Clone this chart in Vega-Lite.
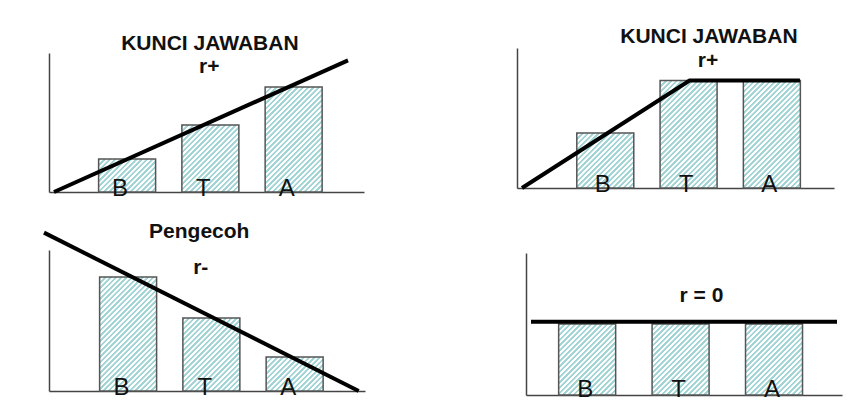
{
  "$schema": "https://vega.github.io/schema/vega-lite/v6.json",
  "background": "white",
  "padding": {"left": 36, "top": 25, "right": 0, "bottom": 0},
  "bounds": "flush",
  "columns": 2,
  "align": "none",
  "spacing": {"row": 58, "column": 152},
  "config": {
    "view": {"stroke": null},
    "font": "Liberation Sans",
    "axis": {"ticks": false, "labels": false, "grid": false, "domainColor": "#444", "domainWidth": 1.5}
  },
  "params": [
    {"name": "hatchStops", "value": [
      {"offset": 0, "color": "#a3d4d5"}, {"offset": 0.01, "color": "#a3d4d5"}, {"offset": 0.0125, "color": "#ffffff"}, {"offset": 0.0225, "color": "#ffffff"},
      {"offset": 0.025, "color": "#a3d4d5"}, {"offset": 0.035, "color": "#a3d4d5"}, {"offset": 0.0375, "color": "#ffffff"}, {"offset": 0.0475, "color": "#ffffff"},
      {"offset": 0.05, "color": "#a3d4d5"}, {"offset": 0.06, "color": "#a3d4d5"}, {"offset": 0.0625, "color": "#ffffff"}, {"offset": 0.0725, "color": "#ffffff"},
      {"offset": 0.075, "color": "#a3d4d5"}, {"offset": 0.085, "color": "#a3d4d5"}, {"offset": 0.0875, "color": "#ffffff"}, {"offset": 0.0975, "color": "#ffffff"},
      {"offset": 0.1, "color": "#a3d4d5"}, {"offset": 0.11, "color": "#a3d4d5"}, {"offset": 0.1125, "color": "#ffffff"}, {"offset": 0.1225, "color": "#ffffff"},
      {"offset": 0.125, "color": "#a3d4d5"}, {"offset": 0.135, "color": "#a3d4d5"}, {"offset": 0.1375, "color": "#ffffff"}, {"offset": 0.1475, "color": "#ffffff"},
      {"offset": 0.15, "color": "#a3d4d5"}, {"offset": 0.16, "color": "#a3d4d5"}, {"offset": 0.1625, "color": "#ffffff"}, {"offset": 0.1725, "color": "#ffffff"},
      {"offset": 0.175, "color": "#a3d4d5"}, {"offset": 0.185, "color": "#a3d4d5"}, {"offset": 0.1875, "color": "#ffffff"}, {"offset": 0.1975, "color": "#ffffff"},
      {"offset": 0.2, "color": "#a3d4d5"}, {"offset": 0.21, "color": "#a3d4d5"}, {"offset": 0.2125, "color": "#ffffff"}, {"offset": 0.2225, "color": "#ffffff"},
      {"offset": 0.225, "color": "#a3d4d5"}, {"offset": 0.235, "color": "#a3d4d5"}, {"offset": 0.2375, "color": "#ffffff"}, {"offset": 0.2475, "color": "#ffffff"},
      {"offset": 0.25, "color": "#a3d4d5"}, {"offset": 0.26, "color": "#a3d4d5"}, {"offset": 0.2625, "color": "#ffffff"}, {"offset": 0.2725, "color": "#ffffff"},
      {"offset": 0.275, "color": "#a3d4d5"}, {"offset": 0.285, "color": "#a3d4d5"}, {"offset": 0.2875, "color": "#ffffff"}, {"offset": 0.2975, "color": "#ffffff"},
      {"offset": 0.3, "color": "#a3d4d5"}, {"offset": 0.31, "color": "#a3d4d5"}, {"offset": 0.3125, "color": "#ffffff"}, {"offset": 0.3225, "color": "#ffffff"},
      {"offset": 0.325, "color": "#a3d4d5"}, {"offset": 0.335, "color": "#a3d4d5"}, {"offset": 0.3375, "color": "#ffffff"}, {"offset": 0.3475, "color": "#ffffff"},
      {"offset": 0.35, "color": "#a3d4d5"}, {"offset": 0.36, "color": "#a3d4d5"}, {"offset": 0.3625, "color": "#ffffff"}, {"offset": 0.3725, "color": "#ffffff"},
      {"offset": 0.375, "color": "#a3d4d5"}, {"offset": 0.385, "color": "#a3d4d5"}, {"offset": 0.3875, "color": "#ffffff"}, {"offset": 0.3975, "color": "#ffffff"},
      {"offset": 0.4, "color": "#a3d4d5"}, {"offset": 0.41, "color": "#a3d4d5"}, {"offset": 0.4125, "color": "#ffffff"}, {"offset": 0.4225, "color": "#ffffff"},
      {"offset": 0.425, "color": "#a3d4d5"}, {"offset": 0.435, "color": "#a3d4d5"}, {"offset": 0.4375, "color": "#ffffff"}, {"offset": 0.4475, "color": "#ffffff"},
      {"offset": 0.45, "color": "#a3d4d5"}, {"offset": 0.46, "color": "#a3d4d5"}, {"offset": 0.4625, "color": "#ffffff"}, {"offset": 0.4725, "color": "#ffffff"},
      {"offset": 0.475, "color": "#a3d4d5"}, {"offset": 0.485, "color": "#a3d4d5"}, {"offset": 0.4875, "color": "#ffffff"}, {"offset": 0.4975, "color": "#ffffff"},
      {"offset": 0.5, "color": "#a3d4d5"}, {"offset": 0.51, "color": "#a3d4d5"}, {"offset": 0.5125, "color": "#ffffff"}, {"offset": 0.5225, "color": "#ffffff"},
      {"offset": 0.525, "color": "#a3d4d5"}, {"offset": 0.535, "color": "#a3d4d5"}, {"offset": 0.5375, "color": "#ffffff"}, {"offset": 0.5475, "color": "#ffffff"},
      {"offset": 0.55, "color": "#a3d4d5"}, {"offset": 0.56, "color": "#a3d4d5"}, {"offset": 0.5625, "color": "#ffffff"}, {"offset": 0.5725, "color": "#ffffff"},
      {"offset": 0.575, "color": "#a3d4d5"}, {"offset": 0.585, "color": "#a3d4d5"}, {"offset": 0.5875, "color": "#ffffff"}, {"offset": 0.5975, "color": "#ffffff"},
      {"offset": 0.6, "color": "#a3d4d5"}, {"offset": 0.61, "color": "#a3d4d5"}, {"offset": 0.6125, "color": "#ffffff"}, {"offset": 0.6225, "color": "#ffffff"},
      {"offset": 0.625, "color": "#a3d4d5"}, {"offset": 0.635, "color": "#a3d4d5"}, {"offset": 0.6375, "color": "#ffffff"}, {"offset": 0.6475, "color": "#ffffff"},
      {"offset": 0.65, "color": "#a3d4d5"}, {"offset": 0.66, "color": "#a3d4d5"}, {"offset": 0.6625, "color": "#ffffff"}, {"offset": 0.6725, "color": "#ffffff"},
      {"offset": 0.675, "color": "#a3d4d5"}, {"offset": 0.685, "color": "#a3d4d5"}, {"offset": 0.6875, "color": "#ffffff"}, {"offset": 0.6975, "color": "#ffffff"},
      {"offset": 0.7, "color": "#a3d4d5"}, {"offset": 0.71, "color": "#a3d4d5"}, {"offset": 0.7125, "color": "#ffffff"}, {"offset": 0.7225, "color": "#ffffff"},
      {"offset": 0.725, "color": "#a3d4d5"}, {"offset": 0.735, "color": "#a3d4d5"}, {"offset": 0.7375, "color": "#ffffff"}, {"offset": 0.7475, "color": "#ffffff"},
      {"offset": 0.75, "color": "#a3d4d5"}, {"offset": 0.76, "color": "#a3d4d5"}, {"offset": 0.7625, "color": "#ffffff"}, {"offset": 0.7725, "color": "#ffffff"},
      {"offset": 0.775, "color": "#a3d4d5"}, {"offset": 0.785, "color": "#a3d4d5"}, {"offset": 0.7875, "color": "#ffffff"}, {"offset": 0.7975, "color": "#ffffff"},
      {"offset": 0.8, "color": "#a3d4d5"}, {"offset": 0.81, "color": "#a3d4d5"}, {"offset": 0.8125, "color": "#ffffff"}, {"offset": 0.8225, "color": "#ffffff"},
      {"offset": 0.825, "color": "#a3d4d5"}, {"offset": 0.835, "color": "#a3d4d5"}, {"offset": 0.8375, "color": "#ffffff"}, {"offset": 0.8475, "color": "#ffffff"}
    ]}
  ],
  "datasets": {
    "tlBars": [{"item": "B", "x": 1, "y": 2.37}, {"item": "T", "x": 2, "y": 4.82}, {"item": "A", "x": 3, "y": 7.55}],
    "tlLine": [{"x": 0.122, "y": 0}, {"x": 3.653, "y": 9.47}],
    "tlText": [{"t": "KUNCI JAWABAN", "x": 1.994, "y": 10.22}, {"t": "r+", "x": 1.986, "y": 8.56}],
    "trBars": [{"item": "B", "x": 1, "y": 3.93}, {"item": "T", "x": 2, "y": 7.68}, {"item": "A", "x": 3, "y": 7.68}],
    "trLine": [{"x": 0, "y": 0}, {"x": 2.012, "y": 7.68}, {"x": 3.337, "y": 7.68}],
    "trText": [{"t": "KUNCI JAWABAN", "x": 2.244, "y": 10.36}, {"t": "r+", "x": 2.233, "y": 8.64}],
    "blBars": [{"item": "B", "x": 1, "y": 8.09}, {"item": "T", "x": 2, "y": 5.18}, {"item": "A", "x": 3, "y": 2.41}],
    "blLine": [{"x": -0.01, "y": 11.23}, {"x": 3.769, "y": 0}],
    "blText": [{"t": "Pengecoh", "x": 1.854, "y": 10.85}, {"t": "r-", "x": 1.872, "y": 8.3}],
    "brBars": [{"item": "B", "x": 1, "y": 5.0}, {"item": "T", "x": 2, "y": 5.0}, {"item": "A", "x": 3, "y": 5.0}],
    "brLine": [{"x": 0.399, "y": 5.15}, {"x": 3.674, "y": 5.15}],
    "brText": [{"t": "r = 0", "x": 2.223, "y": 6.55}]
  },
  "concat": [
    {
      "width": 315, "height": 144,
      "encoding": {
        "x": {"field": "x", "type": "quantitative", "scale": {"domain": [0.122, 3.785], "nice": false, "zero": false}, "title": null},
        "y": {"field": "y", "type": "quantitative", "scale": {"domain": [0, 10], "nice": false, "range": [144, 5]}, "title": null}
      },
      "layer": [
        {"data": {"name": "tlBars"}, "mark": {"type": "bar", "orient": "vertical", "size": 57, "stroke": "#555", "strokeWidth": 1.5,
          "fill": {"expr": "{id: 'hatchTL' + datum.item, gradient: 'linear', x1: 0, y1: 0, x2: 212/(57*(1+pow(datum.y*13.9/57,2))), y2: 212*(datum.y*13.9/57)/(57*(1+pow(datum.y*13.9/57,2))), stops: hatchStops}"}}},
        {"data": {"name": "tlBars"}, "mark": {"type": "text", "fontSize": 24, "baseline": "alphabetic", "dy": 4, "dx": -7, "color": "#111"}, "encoding": {"y": {"datum": 0}, "text": {"field": "item"}}},
        {"data": {"name": "tlLine"}, "mark": {"type": "line", "color": "black", "strokeWidth": 4, "clip": false}},
        {"data": {"name": "tlText"}, "mark": {"type": "text", "fontSize": 21, "fontWeight": "bold", "baseline": "alphabetic", "color": "#111"}, "encoding": {"text": {"field": "t"}}}
      ]
    },
    {
      "width": 317, "height": 140,
      "encoding": {
        "x": {"field": "x", "type": "quantitative", "scale": {"domain": [0, 3.686], "nice": false, "zero": false}, "title": null},
        "y": {"field": "y", "type": "quantitative", "scale": {"domain": [0, 10], "nice": false}, "title": null}
      },
      "layer": [
        {"data": {"name": "trBars"}, "mark": {"type": "bar", "orient": "vertical", "size": 57, "stroke": "#555", "strokeWidth": 1.5,
          "fill": {"expr": "{id: 'hatchTR' + datum.item, gradient: 'linear', x1: 0, y1: 0, x2: 212/(57*(1+pow(datum.y*14/57,2))), y2: 212*(datum.y*14/57)/(57*(1+pow(datum.y*14/57,2))), stops: hatchStops}"}}},
        {"data": {"name": "trBars"}, "mark": {"type": "text", "fontSize": 24, "baseline": "alphabetic", "dy": 4, "dx": -2.5, "color": "#111"}, "encoding": {"y": {"datum": 0}, "text": {"field": "item"}}},
        {"data": {"name": "trLine"}, "mark": {"type": "line", "color": "black", "strokeWidth": 4, "clip": false}},
        {"data": {"name": "trText"}, "mark": {"type": "text", "fontSize": 21, "fontWeight": "bold", "baseline": "alphabetic", "color": "#111"}, "encoding": {"text": {"field": "t"}}}
      ]
    },
    {
      "width": 316, "height": 141,
      "encoding": {
        "x": {"field": "x", "type": "quantitative", "scale": {"domain": [0.11, 3.785], "nice": false, "zero": false}, "title": null},
        "y": {"field": "y", "type": "quantitative", "scale": {"domain": [0, 10], "nice": false}, "title": null}
      },
      "layer": [
        {"data": {"name": "blBars"}, "mark": {"type": "bar", "orient": "vertical", "size": 57, "stroke": "#555", "strokeWidth": 1.5,
          "fill": {"expr": "{id: 'hatchBL' + datum.item, gradient: 'linear', x1: 0, y1: 0, x2: 212/(57*(1+pow(datum.y*14.1/57,2))), y2: 212*(datum.y*14.1/57)/(57*(1+pow(datum.y*14.1/57,2))), stops: hatchStops}"}}},
        {"data": {"name": "blBars"}, "mark": {"type": "text", "fontSize": 24, "baseline": "alphabetic", "dy": 4, "dx": -6.5, "color": "#111"}, "encoding": {"y": {"datum": 0}, "text": {"field": "item"}}},
        {"data": {"name": "blLine"}, "mark": {"type": "line", "color": "black", "strokeWidth": 4, "clip": false}},
        {"data": {"name": "blText"}, "mark": {"type": "text", "fontSize": 21, "fontWeight": "bold", "baseline": "alphabetic", "color": "#111"}, "encoding": {"text": {"field": "t"}}}
      ]
    },
    {
      "width": 325, "height": 145,
      "encoding": {
        "x": {"field": "x", "type": "quantitative", "scale": {"domain": [0.399, 3.674], "nice": false, "zero": false, "range": [9, 325]}, "title": null},
        "y": {"field": "y", "type": "quantitative", "scale": {"domain": [0, 10], "nice": false, "range": [145, 3]}, "axis": {"offset": -9}, "title": null}
      },
      "layer": [
        {"data": {"name": "brBars"}, "mark": {"type": "bar", "orient": "vertical", "size": 57, "stroke": "#555", "strokeWidth": 1.5,
          "fill": {"expr": "{id: 'hatchBR' + datum.item, gradient: 'linear', x1: 0, y1: 0, x2: 212/(57*(1+pow(datum.y*14.2/57,2))), y2: 212*(datum.y*14.2/57)/(57*(1+pow(datum.y*14.2/57,2))), stops: hatchStops}"}}},
        {"data": {"name": "brBars"}, "mark": {"type": "text", "fontSize": 24, "baseline": "alphabetic", "dy": 1.5, "dx": -2, "color": "#111"}, "encoding": {"y": {"datum": 0}, "text": {"field": "item"}}},
        {"data": {"name": "brLine"}, "mark": {"type": "line", "color": "black", "strokeWidth": 4, "clip": false}},
        {"data": {"name": "brText"}, "mark": {"type": "text", "fontSize": 21, "fontWeight": "bold", "baseline": "alphabetic", "color": "#111"}, "encoding": {"text": {"field": "t"}}}
      ]
    }
  ]
}
